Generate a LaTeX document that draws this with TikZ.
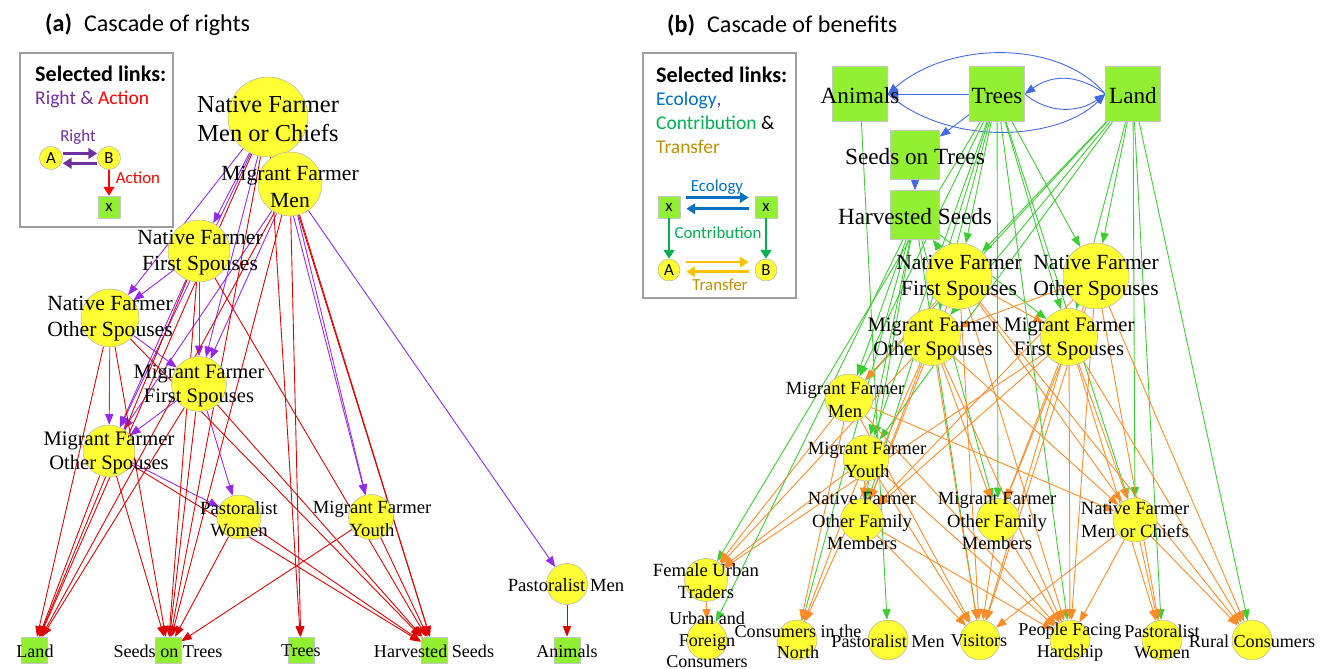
\documentclass[tikz,border=0pt]{standalone}
\usepackage{fontspec}
\setmainfont{Liberation Serif}
\newfontfamily\calibri{Carlito}
\usetikzlibrary{arrows.meta,backgrounds}

\definecolor{nodeyellow}{RGB}{255,255,51}
\definecolor{boxgreen}{RGB}{146,240,50}
\definecolor{rightpurple}{RGB}{150,40,235}
\definecolor{actred}{RGB}{220,0,0}
\definecolor{ecoblue}{RGB}{65,105,225}
\definecolor{contgreen}{RGB}{60,205,50}
\definecolor{transorange}{RGB}{255,140,40}
\definecolor{legpurple}{RGB}{112,48,160}
\definecolor{legred}{RGB}{255,0,0}
\definecolor{legblue}{RGB}{0,112,192}
\definecolor{leggreen}{RGB}{0,176,80}
\definecolor{leggold}{RGB}{191,144,0}
\definecolor{legorange}{RGB}{255,192,0}

\tikzset{
  actor/.style={circle, fill=nodeyellow, draw=gray!60, line width=0.3pt, inner sep=0pt},
  res/.style={rectangle, fill=boxgreen, draw=gray!45, line width=0.3pt, inner sep=0pt},
  lab/.style={align=center, inner sep=0pt},
  linktip/.style={-{Triangle[length=6pt,width=4.6pt]}, line width=0.5pt},
  rightln/.style={linktip, color=rightpurple},
  actln/.style={linktip, color=actred},
  ecoln/.style={linktip, color=ecoblue},
  contln/.style={linktip, color=contgreen},
  transln/.style={linktip, color=transorange},
  legarr/.style={-{Triangle[length=5pt,width=6pt]}, line width=1.5pt},
  frame/.style={draw=gray!75, line width=0.8pt},
  ftitle/.style={font=\calibri\fontsize{13.7}{16}\selectfont},
  fhead/.style={font=\calibri\bfseries\fontsize{12.6}{15}\selectfont},
  fkey/.style={font=\calibri\fontsize{11.1}{13.5}\selectfont},
  fleg/.style={font=\calibri\fontsize{9.6}{11}\selectfont},
  fbig/.style={font=\fontsize{13.9}{16.4}\selectfont},
  fres/.style={font=\fontsize{13.2}{15.5}\selectfont},
  flarge/.style={font=\fontsize{12.3}{14.9}\selectfont},
  fmid/.style={font=\fontsize{11.7}{13.9}\selectfont},
  fsmall/.style={font=\fontsize{10.6}{12.8}\selectfont},
  fbot/.style={font=\fontsize{10.3}{12.2}\selectfont}
}

\begin{document}
\begin{tikzpicture}[x=0.02cm, y=-0.02cm]
\useasboundingbox (0,0) rectangle (1326,669);
\begin{scope}[on background layer]
  \fill[white] (0,0) rectangle (1326,669);
\end{scope}

% titles
\node[anchor=west, ftitle] (a-title) at (39,25) {\textbf{(a)}\hspace{0.5em}Cascade of rights};
\node[anchor=west, ftitle] (b-title) at (661,25) {\textbf{(b)}\hspace{0.5em}Cascade of benefits};

% (a) legend
\draw[frame] (20,53) rectangle (173,227);
\node[anchor=west, fhead] (a-sel) at (29,74) {Selected links:};
\node[anchor=west, fkey] (a-key) at (29,99) {\textcolor{legpurple}{Right \&} \textcolor{legred}{Action}};
\node[actor, minimum size=0.46cm, fleg] (a-la) at (51,158) {A};
\node[actor, minimum size=0.46cm, fleg] (a-lb) at (109,158) {B};
\node[res, minimum size=0.44cm, fleg] (a-lx) at (109,207) {x};
\node[fleg, text=legpurple] (a-lright) at (78,137) {Right};
\node[fleg, text=legred] (a-laction) at (138,178) {Action};
\draw[legarr, legpurple] ([yshift=2.6pt]a-la.east) -- ([yshift=2.6pt]a-lb.west);
\draw[legarr, legpurple] ([yshift=-3pt]a-lb.west) -- ([yshift=-3pt]a-la.east);
\draw[legred, line width=1pt, -{Triangle[length=5pt,width=6pt]}] (a-lb) -- (a-lx);

% (a) actors
\node[actor, minimum size=1.6cm] (a-nfmc) at (268,117) {};
\node[actor, minimum size=1.28cm] (a-mfm) at (290,184) {};
\node[actor, minimum size=1.24cm] (a-nffs) at (199,251) {};
\node[actor, minimum size=1.16cm] (a-nfos) at (110,318) {};
\node[actor, minimum size=1.1cm] (a-mffs) at (199,384) {};
\node[actor, minimum size=1.04cm] (a-mfos) at (109,451) {};
\node[actor, minimum size=0.88cm] (a-pw) at (239,517) {};
\node[actor, minimum size=0.9cm] (a-mfy) at (371,517) {};
\node[actor, minimum size=0.82cm] (a-pm) at (567,584) {};

% (a) resources
\node[res, minimum size=0.52cm] (a-land) at (34,650) {};
\node[res, minimum size=0.52cm] (a-seeds) at (168,650) {};
\node[res, minimum size=0.52cm] (a-trees) at (301,650) {};
\node[res, minimum size=0.52cm] (a-harv) at (434,650) {};
\node[res, minimum size=0.52cm] (a-animals) at (567,650) {};

% (a) labels
\node[lab, fbig] (a-nfmc-t) at (268,119) {Native Farmer\\Men or Chiefs};
\node[lab, flarge] (a-mfm-t) at (290,187) {Migrant Farmer\\Men};
\node[lab, flarge] (a-nffs-t) at (200,253) {Native Farmer\\First Spouses};
\node[lab, flarge] (a-nfos-t) at (110,319) {Native Farmer\\Other Spouses};
\node[lab, fmid] (a-mffs-t) at (199,386) {Migrant Farmer\\First Spouses};
\node[lab, fmid] (a-mfos-t) at (109,453) {Migrant Farmer\\Other Spouses};
\node[lab, fsmall] (a-pw-t) at (239,519) {Pastoralist\\Women};
\node[lab, fsmall] (a-mfy-t) at (372,519) {Migrant Farmer\\Youth};
\node[lab, fsmall] (a-pm-t) at (566,585) {Pastoralist Men};
\node[lab, fbot] (a-land-t) at (35,651) {Land};
\node[lab, fbot] (a-seeds-t) at (168,651) {Seeds on Trees};
\node[lab, fbot] (a-trees-t) at (301,651) {Trees};
\node[lab, fbot] (a-harv-t) at (434,651) {Harvested Seeds};
\node[lab, fbot] (a-animals-t) at (567,651) {Animals};

% (a) links
\begin{scope}[on background layer]
  \draw[rightln] (a-nfmc) edge (a-nffs) edge (a-nfos) edge (a-mffs) edge (a-mfos) edge (a-mfy);
  \draw[rightln] (a-mfm) edge (a-mffs) edge (a-mfos) edge (a-mfy) edge (a-pm);
  \draw[rightln] (a-nffs) edge (a-nfos) edge (a-mffs) edge (a-mfos);
  \draw[rightln] (a-nfos) edge (a-mffs) edge (a-mfos);
  \draw[rightln] (a-mffs) edge (a-mfos) edge (a-pw);
  \draw[rightln] (a-mfos) edge (a-pw);
  \draw[actln] (a-nfmc) edge (a-land) edge (a-seeds) edge (a-trees) edge (a-harv);
  \draw[actln] (a-mfm) edge (a-land) edge (a-seeds) edge (a-trees) edge (a-harv);
  \draw[actln] (a-nffs) edge (a-land) edge (a-seeds) edge (a-harv);
  \draw[actln] (a-nfos) edge (a-land) edge (a-seeds) edge (a-harv);
  \draw[actln] (a-mffs) edge (a-land) edge (a-seeds) edge (a-harv);
  \draw[actln] (a-mfos) edge (a-land) edge (a-seeds) edge (a-harv);
  \draw[actln] (a-pw) edge (a-seeds) edge (a-harv);
  \draw[actln] (a-mfy) edge (a-seeds) edge (a-harv);
  \draw[actln] (a-pm) edge (a-animals);
\end{scope}

% (b) legend
\draw[frame] (643,53) rectangle (796,298);
\node[anchor=west, fhead] (b-sel) at (650,75) {Selected links:};
\node[anchor=west, fkey] (b-key1) at (650,100) {\textcolor{legblue}{Ecology}\textcolor{legpurple}{,}};
\node[anchor=west, fkey] (b-key2) at (650,123) {\textcolor{leggreen}{Contribution} \&};
\node[anchor=west, fkey, text=leggold] (b-key3) at (650,147) {Transfer};
\node[res, minimum size=0.44cm, fleg] (b-lx1) at (669,207) {x};
\node[res, minimum size=0.44cm, fleg] (b-lx2) at (766,207) {x};
\node[actor, minimum size=0.44cm, fleg] (b-la) at (669,270) {A};
\node[actor, minimum size=0.44cm, fleg] (b-lb) at (766,270) {B};
\node[fleg, text=legblue] (b-leco) at (717,187) {Ecology};
\node[fleg, text=leggreen] (b-lcont) at (718,233) {Contribution};
\node[fleg, text=leggold] (b-ltrans) at (720,285) {Transfer};
\draw[legarr, legblue, shorten <=3.5pt, shorten >=3.5pt] ([yshift=5.4pt]b-lx1.east) -- ([yshift=5.4pt]b-lx2.west);
\draw[legarr, legblue, shorten <=3.5pt, shorten >=3.5pt] ([yshift=-1pt]b-lx2.west) -- ([yshift=-1pt]b-lx1.east);
\draw[legarr, leggreen, line width=1.2pt] (b-lx1) -- (b-la);
\draw[legarr, leggreen, line width=1.2pt] (b-lx2) -- (b-lb);
\draw[legarr, legorange, shorten <=3.5pt, shorten >=3.5pt] ([yshift=4.5pt]b-la.east) -- ([yshift=4.5pt]b-lb.west);
\draw[legarr, legorange, shorten <=3.5pt, shorten >=3.5pt] ([yshift=-1pt]b-lb.west) -- ([yshift=-1pt]b-la.east);

% (b) resources
\node[res, minimum size=1.1cm] (b-animals) at (860,94) {};
\node[res, minimum size=1.1cm] (b-trees) at (997,94) {};
\node[res, minimum size=1.1cm] (b-land) at (1133,94) {};
\node[res, minimum size=0.98cm] (b-seeds) at (915,155) {};
\node[res, minimum size=0.98cm] (b-harv) at (915,215) {};

% (b) actors
\node[actor, minimum size=1.32cm] (b-nffs) at (959,276) {};
\node[actor, minimum size=1.32cm] (b-nfos) at (1096,276) {};
\node[actor, minimum size=1.14cm] (b-mfos) at (932,337) {};
\node[actor, minimum size=1.14cm] (b-mffs) at (1069,337) {};
\node[actor, minimum size=0.96cm] (b-mfm) at (849,398) {};
\node[actor, minimum size=0.92cm] (b-mfy) at (866,458) {};
\node[actor, minimum size=0.86cm] (b-nfofm) at (862,520) {};
\node[actor, minimum size=0.86cm] (b-mfofm) at (998,520) {};
\node[actor, minimum size=0.88cm] (b-nfmc) at (1135,520) {};
\node[actor, minimum size=0.86cm] (b-fut) at (706,580) {};
\node[actor, minimum size=0.8cm] (b-ufc) at (707,640) {};
\node[actor, minimum size=0.8cm] (b-cn) at (797,640) {};
\node[actor, minimum size=0.8cm] (b-pm) at (888,640) {};
\node[actor, minimum size=0.8cm] (b-vis) at (980,640) {};
\node[actor, minimum size=0.8cm] (b-pfh) at (1070,640) {};
\node[actor, minimum size=0.8cm] (b-pw) at (1162,640) {};
\node[actor, minimum size=0.8cm] (b-rc) at (1252,640) {};

% (b) labels
\node[lab, fres] (b-animals-t) at (860,96) {Animals};
\node[lab, fres] (b-trees-t) at (997,96) {Trees};
\node[lab, fres] (b-land-t) at (1133,96) {Land};
\node[lab, fres] (b-seeds-t) at (915,157) {Seeds on Trees};
\node[lab, fres] (b-harv-t) at (915,217) {Harvested Seeds};
\node[lab, flarge] (b-nffs-t) at (959,278) {Native Farmer\\First Spouses};
\node[lab, flarge] (b-nfos-t) at (1096,278) {Native Farmer\\Other Spouses};
\node[lab, fmid] (b-mfos-t) at (933,339) {Migrant Farmer\\Other Spouses};
\node[lab, fmid] (b-mffs-t) at (1069,339) {Migrant Farmer\\First Spouses};
\node[lab, fsmall] (b-mfm-t) at (845,400) {Migrant Farmer\\Men};
\node[lab, fsmall] (b-mfy-t) at (867,460) {Migrant Farmer\\Youth};
\node[lab, fsmall] (b-nfofm-t) at (862,521) {Native Farmer\\Other Family\\Members};
\node[lab, fsmall] (b-mfofm-t) at (997,521) {Migrant Farmer\\Other Family\\Members};
\node[lab, fsmall] (b-nfmc-t) at (1135,520) {Native Farmer\\Men or Chiefs};
\node[lab, fsmall] (b-fut-t) at (706,581) {Female Urban\\Traders};
\node[lab, fbot] (b-ufc-t) at (707,640) {Urban and\\Foreign\\Consumers};
\node[lab, fbot] (b-cn-t) at (798,642) {Consumers in the\\North};
\node[lab, fbot] (b-pm-t) at (888,641) {Pastoralist Men};
\node[lab, fbot] (b-vis-t) at (979,641) {Visitors};
\node[lab, fbot] (b-pfh-t) at (1070,642) {People Facing\\Hardship};
\node[lab, fbot] (b-pw-t) at (1162,642) {Pastoralist\\Women};
\node[lab, fbot] (b-rc-t) at (1252,641) {Rural Consumers};

% (b) links
\begin{scope}[on background layer]
  \draw[ecoln] (b-trees) -- (b-animals);
  \draw[ecoln] (b-land.west) .. controls (1060,40) and (950,40) .. (b-animals.east);
  \draw[ecoln] (b-animals.east) .. controls (950,148) and (1060,140) .. (b-land.west);
  \draw[ecoln] (b-land.west) .. controls (1075,72) and (1050,76) .. (b-trees.east);
  \draw[ecoln] (b-trees.east) .. controls (1050,115) and (1080,112) .. (b-land.west);
  \draw[ecoln] (b-trees) -- (b-seeds);
  \draw[ecoln] (b-seeds) -- (b-harv);
  \draw[contln] (b-animals) edge (b-pm);
  \draw[contln] (b-trees) edge (b-nffs) edge (b-nfos) edge (b-mfos) edge (b-mffs) edge (b-mfm) edge (b-mfy) edge (b-mfofm) edge (b-nfmc) edge (b-pfh) edge (b-nfofm) edge (b-fut);
  \draw[contln] (b-land) edge (b-nffs) edge (b-nfos) edge (b-mfos) edge (b-mfm) edge (b-mfy) edge (b-nfmc) edge (b-mffs) edge (b-rc) edge (b-pw);
  \draw[contln] (b-harv) edge (b-mffs) edge (b-ufc) edge (b-cn) edge (b-mfm) edge (b-mfy) edge (b-nfofm) edge (b-mfofm) edge (b-vis);
  \draw[contln] (b-nffs) edge (b-harv);
  \draw[transln] (b-nffs) edge (b-mfm) edge (b-mffs) edge (b-nfmc) edge (b-vis) edge (b-pfh) edge (b-rc) edge (b-nfofm);
  \draw[transln] (b-nfos) edge (b-mfos) edge (b-mfofm) edge (b-pfh) edge (b-pw) edge (b-rc) edge (b-nfofm) edge (b-vis);
  \draw[transln] (b-mfos) edge (b-fut) edge (b-cn) edge (b-nfofm) edge (b-mfofm) edge (b-nfmc) edge (b-vis) edge (b-pfh);
  \draw[transln] (b-mffs) edge (b-fut) edge (b-nfofm) edge (b-nfmc) edge (b-vis) edge (b-pfh) edge (b-pw) edge (b-rc) edge (b-mfofm);
  \draw[transln] (b-mfm) edge (b-fut) edge (b-cn) edge (b-nfmc) edge (b-vis) edge (b-pfh);
  \draw[transln] (b-mfy) edge (b-fut) edge (b-cn) edge (b-vis) edge (b-pfh) edge (b-nfofm);
  \draw[transln] (b-nfofm) edge (b-vis) edge (b-pfh);
  \draw[transln] (b-mfofm) edge (b-vis) edge (b-pfh);
  \draw[transln] (b-nfmc) edge (b-vis) edge (b-pfh) edge (b-pw) edge (b-rc);
  \draw[transln] (b-fut) edge (b-ufc);
\end{scope}
\end{tikzpicture}
\end{document}
